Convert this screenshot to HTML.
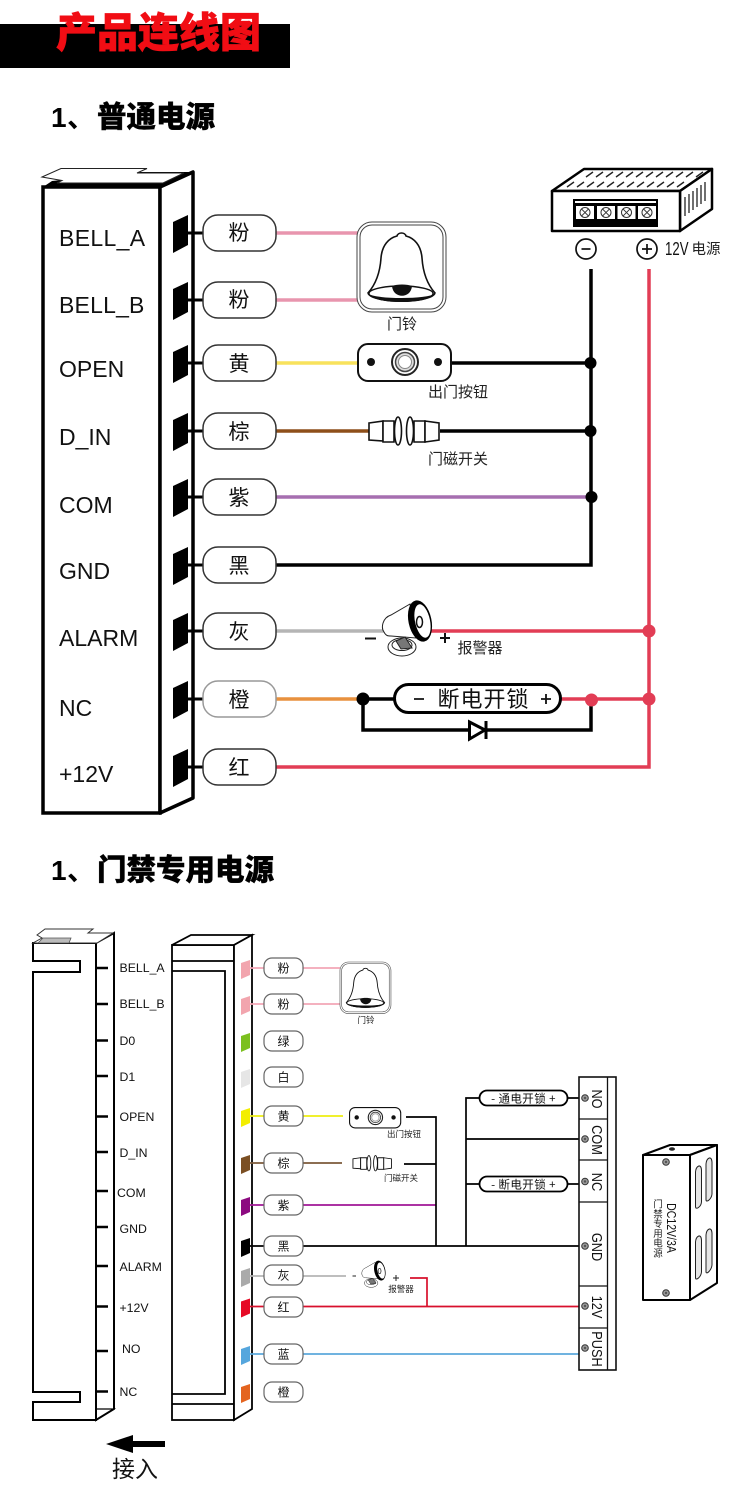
<!DOCTYPE html>
<html lang="zh">
<head>
<meta charset="utf-8">
<title>产品连线图</title>
<style>
html,body{margin:0;padding:0;background:#fff;}
svg{display:block;}
text{font-family:"Liberation Sans","Noto Sans CJK SC",sans-serif;fill:#111;}
.cjk{font-family:"Noto Sans CJK SC","WenQuanYi Zen Hei",sans-serif;}
.big{font-size:23px;}
.p1{font-size:21px;text-anchor:middle;}
.p2{font-size:12px;text-anchor:middle;}
.sm{font-size:12.3px;}
.cap{font-size:15px;text-anchor:middle;fill:#222;}
.capS{font-size:8.5px;text-anchor:middle;fill:#222;}
.pill1{fill:#fff;stroke:#333;stroke-width:1.5;}
.pill2{fill:#fff;stroke:#666;stroke-width:1.2;}
.term{font-size:15px;text-anchor:middle;}
.h2{font-size:29.5px;font-weight:900;fill:#000;stroke:#000;stroke-width:.4;}
.v{font-size:9.5px;text-anchor:middle;fill:#222;}
</style>
</head>
<body>
<svg xmlns="http://www.w3.org/2000/svg" width="750" height="1487" viewBox="0 0 750 1487">
<defs>
  <path id="pin" d="M173-11L188-18V12L173 20Z" fill="#000"/>
  <path id="tab" d="M241-5L250-8V7L241 11Z"/>
  <g id="bell">
    <rect x="357" y="222" width="89" height="90" rx="15" fill="#fff" stroke="#444" stroke-width="1"/>
    <rect x="360" y="225" width="83" height="84" rx="12" fill="#fff" stroke="#444" stroke-width="1"/>
    <path d="M368 293C376 284 380 273 381 258C382 245 389 238 397 236C398 232 405 232 406 236C414 238 421 245 422 258C423 273 427 284 435 293C428 304 375 304 368 293Z" fill="#fff" stroke="#111" stroke-width="1.6"/>
    <ellipse cx="401" cy="293.500" rx="32" ry="7.500" fill="#fff" stroke="#111" stroke-width="1.4"/>
    <path d="M368 294C375 304 428 304 435 294C428 300 375 300 368 294Z" fill="#111" stroke="#111"/>
    <path d="M392 286C397 284 407 284 412 286C411 299 393 299 392 286Z" fill="#111"/>
  </g>
  <g id="button">
    <rect x="358" y="344" width="93" height="37" rx="10" fill="#fff" stroke="#111" stroke-width="2"/>
    <circle cx="371" cy="362" r="4" fill="#111"/>
    <circle cx="438" cy="362" r="4" fill="#111"/>
    <circle cx="405" cy="362" r="13" fill="#fff" stroke="#222" stroke-width="2"/>
    <circle cx="405" cy="362" r="9.500" fill="#ddd" stroke="#444" stroke-width="1.500"/>
    <circle cx="405" cy="362" r="6.500" fill="#fff" stroke="#888" stroke-width="1"/>
  </g>
  <g id="sensor" fill="#fff" stroke="#111" stroke-width="1.600">
    <path d="M369 423L383 421V441L369 440Z"/>
    <path d="M383 421H394V442H383Z"/>
    <ellipse cx="398" cy="431" rx="3.500" ry="14"/>
    <ellipse cx="410" cy="431" rx="3.500" ry="14"/>
    <path d="M414 421H425V442H414Z"/>
    <path d="M425 421L439 423V440L425 442Z"/>
  </g>
  <g id="speaker">
    <path d="M410 604L391 615C382 618 381 628 384 632C386 636 388 636 391 636L416 638Z" fill="#fff" stroke="#222" stroke-width="1"/>
    <ellipse cx="420" cy="621" rx="11.500" ry="21" transform="rotate(-12 420 621)" fill="#000"/>
    <ellipse cx="422.500" cy="621" rx="7.500" ry="17" transform="rotate(-12 422.500 621)" fill="#fff"/>
    <ellipse cx="419.500" cy="622" rx="3" ry="5.500" fill="#fff" stroke="#111" stroke-width="1.500"/>
    <ellipse cx="402" cy="647" rx="14" ry="9" fill="#fff" stroke="#222" stroke-width="1"/>
    <ellipse cx="402" cy="645" rx="10" ry="5.500" fill="#fff" stroke="#222" stroke-width="1"/>
    <path d="M396 641L405 637L412 648L401 649Z" fill="#777" stroke="#222" stroke-width="1"/>
  </g>
  <g id="screw">
    <circle r="3.300" fill="#999" stroke="#333" stroke-width="1"/>
    <circle r="1.200" fill="#555"/>
  </g>
  <g id="xs">
    <rect x="-9" y="-6.500" width="18" height="13" fill="#fff"/>
    <circle r="5" fill="#fff" stroke="#333" stroke-width="1"/>
    <path d="M-3.300-3.300L3.300 3.300M3.300-3.300L-3.300 3.300" stroke="#333" stroke-width="1"/>
  </g>
</defs>

<rect width="750" height="1487" fill="#fff"/>

<!-- header -->
<rect x="0" y="24" width="290" height="44" fill="#000"/>
<text class="cjk" x="158.500" y="47" text-anchor="middle" style="font-size:41px;font-weight:900;fill:#f10d14;stroke:#f10d14;stroke-width:.7">产品连线图</text>

<!-- section 1 title -->
<text x="51" y="127" style="font-size:28px;font-weight:700;fill:#000">1</text>
<text class="cjk" x="67" y="127" style="font-size:28px;font-weight:700;fill:#000">、</text>
<text class="cjk h2" x="97" y="127">普通电源</text>

<!-- panel 1 -->
<rect x="43" y="187" width="117" height="626" fill="#fff" stroke="#000" stroke-width="3.500"/>
<path d="M160 187L193 172V798L160 813Z" fill="#fff" stroke="#000" stroke-width="3.500" stroke-linejoin="round"/>
<path d="M137 172H193L160 187H43L52 181Z" fill="#000"/>
<path d="M42 177L61 168.500H147L137 173H184L163 183H57L62 180.500Z" fill="#fff" stroke="#222" stroke-width="1"/>

<!-- panel 1 labels -->
<text class="big" x="59" y="246" style="letter-spacing:.35px">BELL_A</text>
<text class="big" x="59" y="313" style="letter-spacing:.2px">BELL_B</text>
<text class="big" x="59" y="377">OPEN</text>
<text class="big" x="59" y="445">D_IN</text>
<text class="big" x="59" y="513">COM</text>
<text class="big" x="59" y="579">GND</text>
<text class="big" x="59" y="646">ALARM</text>
<text class="big" x="59" y="716">NC</text>
<text class="big" x="59" y="782">+12V</text>

<!-- panel 1 pins -->
<g>
  <use href="#pin" y="233"/><use href="#pin" y="300"/><use href="#pin" y="363"/>
  <use href="#pin" y="431"/><use href="#pin" y="497"/><use href="#pin" y="565"/>
  <use href="#pin" y="631"/><use href="#pin" y="699"/><use href="#pin" y="767"/>
</g>
<path d="M188 233H203M188 300H203M188 363H203M188 431H203M188 497H203M188 565H203M188 631H203M188 699H203M188 767H203" stroke="#000" stroke-width="3" fill="none"/>

<!-- panel 1 wires -->
<g fill="none" stroke-width="3.500">
  <path d="M276 233H358M276 300H358" stroke="#e895ae"/>
  <path d="M276 363H358" stroke="#f8e25c"/>
  <path d="M276 431H370" stroke="#8e4f1a"/>
  <path d="M276 497H591" stroke="#a66fb0"/>
  <path d="M276 631H384" stroke="#b5b5b5"/>
  <path d="M276 699H362" stroke="#e8913e"/>
  <path d="M451 363H591M440 431H591M276 565H591V269" stroke="#000"/>
  <path d="M363 699H394M363 699V730H591V699" stroke="#000"/>
  <path d="M649 269V767H276M430 631H649M561 699H649" stroke="#e23d55"/>
</g>
<g fill="#000">
  <circle cx="590.500" cy="363" r="6"/>
  <circle cx="590.500" cy="431" r="6"/>
  <circle cx="591.500" cy="497" r="6"/>
  <circle cx="363" cy="699" r="6.500"/>
</g>
<g fill="#e23d55">
  <circle cx="649" cy="631" r="6.500"/>
  <circle cx="649" cy="699" r="6.500"/>
  <circle cx="591.500" cy="700" r="6.500"/>
</g>

<!-- panel 1 pills -->
<g class="pill1">
  <rect x="203" y="215" width="73" height="36" rx="15"/>
  <rect x="203" y="282" width="73" height="36" rx="15"/>
  <rect x="203" y="345" width="73" height="36" rx="15"/>
  <rect x="203" y="413" width="73" height="36" rx="15"/>
  <rect x="203" y="479" width="73" height="36" rx="15"/>
  <rect x="203" y="547" width="73" height="36" rx="15"/>
  <rect x="203" y="613" width="73" height="36" rx="15"/>
  <rect x="203" y="681" width="73" height="36" rx="15" stroke="#999"/>
  <rect x="203" y="749" width="73" height="36" rx="15"/>
</g>
<g class="cjk">
  <text class="p1 cjk" x="239" y="240">粉</text>
  <text class="p1 cjk" x="239" y="307">粉</text>
  <text class="p1 cjk" x="239" y="371">黄</text>
  <text class="p1 cjk" x="239" y="439">棕</text>
  <text class="p1 cjk" x="239" y="505">紫</text>
  <text class="p1 cjk" x="239" y="573">黑</text>
  <text class="p1 cjk" x="239" y="639">灰</text>
  <text class="p1 cjk" x="239" y="707">橙</text>
  <text class="p1 cjk" x="239" y="775">红</text>
</g>

<!-- panel 1 devices -->
<use href="#bell"/>
<text class="cap cjk" x="402" y="329">门铃</text>
<use href="#button"/>
<text class="cap cjk" x="458" y="397">出门按钮</text>
<use href="#sensor"/>
<text class="cap cjk" x="458" y="464">门磁开关</text>
<use href="#speaker"/>
<path d="M365 638.500H376M440 638H450M445 633V643" stroke="#111" stroke-width="2" fill="none"/>
<text class="cap cjk" x="480" y="653">报警器</text>

<!-- lock -->
<rect x="394.500" y="684.500" width="166" height="28" rx="14" fill="#fff" stroke="#000" stroke-width="3"/>
<path d="M414 699H424M541 699H551M546 694V704" stroke="#111" stroke-width="1.800" fill="none"/>
<text class="cjk" x="483.500" y="707" text-anchor="middle" style="font-size:22px;letter-spacing:1px">断电开锁</text>
<path d="M469.500 722L485 730L469.500 739Z" fill="#fff" stroke="#000" stroke-width="3"/>
<path d="M486 721V739" stroke="#000" stroke-width="3"/>

<!-- power supply -->
<g stroke="#000" stroke-linejoin="round">
  <path d="M552 191L584 169H712L680 191Z" fill="#fff" stroke-width="2.500"/>
  <path d="M680 191L712 169V209L680 231Z" fill="#fff" stroke-width="2.500"/>
  <rect x="552" y="191" width="128" height="40" fill="#fff" stroke-width="2.500"/>
</g>
<path d="M593 172L586 177M603 172L596 177M613 172L606 177M623 172L616 177M633 172L626 177M643 172L636 177M653 172L646 177M663 172L656 177M673 172L666 177M683 172L676 177M693 172L686 177M703 172L696 177M574 182L567 187M584 182L577 187M594 182L587 187M604 182L597 187M614 182L607 187M624 182L617 187M634 182L627 187M644 182L637 187M654 182L647 187M664 182L657 187M674 182L667 187M684 182L677 187" stroke="#222" stroke-width="1.400" fill="none"/>
<path d="M685 197V216M689 194V213M693 191V210M697 188V207M701 185V204M705 182V201" stroke="#222" stroke-width="1.300" fill="none"/>
<rect x="573" y="199" width="85" height="28" fill="#000"/>
<rect x="575" y="201" width="81" height="2" fill="#fff"/>
<use href="#xs" x="585" y="212.500"/><use href="#xs" x="606" y="212.500"/><use href="#xs" x="626.500" y="212.500"/><use href="#xs" x="647" y="212.500"/>
<circle cx="586" cy="249" r="10" fill="#fff" stroke="#111" stroke-width="1.700"/>
<path d="M581.500 249H590.500" stroke="#111" stroke-width="1.700"/>
<circle cx="647" cy="249" r="10" fill="#fff" stroke="#111" stroke-width="1.700"/>
<path d="M642 249H652M647 244V254" stroke="#111" stroke-width="1.700"/>
<text x="665" y="255" style="font-size:18px" textLength="23.500" lengthAdjust="spacingAndGlyphs">12V</text>
<text class="cjk" x="691.500" y="254" style="font-size:14.500px;fill:#222">电源</text>

<!-- section 2 title -->
<text x="51" y="880" style="font-size:28px;font-weight:700;fill:#000">1</text>
<text class="cjk" x="67" y="880" style="font-size:28px;font-weight:700;fill:#000">、</text>
<text class="cjk h2" x="97" y="880">门禁专用电源</text>

<!-- lower left panel -->
<g fill="none" stroke="#000" stroke-width="2" stroke-linejoin="miter">
  <path d="M33 961V943H96V1420H33V1402H80V1392H33V972H80V961Z" fill="#fff"/>
  <path d="M96 943L114 933V1409L96 1420Z" fill="#fff"/>
  <path d="M96 1420L114 1409H96" stroke-width="1.200"/>
</g>
<path d="M37 935L45 929H93L88 933H113L97 943H33L42 938Z" fill="#fff" stroke="#333" stroke-width="1"/>
<path d="M38 943L43 938H71L69 943Z" fill="#bbb" stroke="#555" stroke-width=".8"/>
<path d="M96 968H108M96 1004H108M96 1040.500H108M96 1076H108M96 1116.500H108M96 1152H108M96 1191H108M96 1227H108M96 1266H108M96 1306.500H108M96 1351H108M96 1391.500H108" stroke="#000" stroke-width="2.500" fill="none"/>
<text class="sm" x="119.500" y="972">BELL_A</text>
<text class="sm" x="119.500" y="1008">BELL_B</text>
<text class="sm" x="119.500" y="1045">D0</text>
<text class="sm" x="119.500" y="1081">D1</text>
<text class="sm" x="119.500" y="1121">OPEN</text>
<text class="sm" x="119.500" y="1157">D_IN</text>
<text class="sm" x="117" y="1197">COM</text>
<text class="sm" x="119.500" y="1233">GND</text>
<text class="sm" x="119.500" y="1271">ALARM</text>
<text class="sm" x="119.500" y="1312">+12V</text>
<text class="sm" x="122" y="1353">NO</text>
<text class="sm" x="119.500" y="1396">NC</text>

<!-- lower right panel -->
<g fill="none" stroke="#000" stroke-width="1.800">
  <rect x="172" y="945" width="62" height="475" fill="#fff"/>
  <path d="M172 945L191 935H252L234 945Z" fill="#fff"/>
  <path d="M234 945L252 935V1409L234 1420Z" fill="#fff"/>
  <path d="M172 961H234M172 971H225V1394H172M172 1404H234"/>
</g>

<!-- tabs -->
<use href="#tab" y="968" fill="#f2a5ae"/>
<use href="#tab" y="1004" fill="#f2a5ae"/>
<use href="#tab" y="1041" fill="#7cc01f"/>
<use href="#tab" y="1077" fill="#e6e6e6"/>
<use href="#tab" y="1116" fill="#f3ee00"/>
<use href="#tab" y="1163" fill="#7b4f23"/>
<use href="#tab" y="1205" fill="#8c0a80"/>
<use href="#tab" y="1246" fill="#000"/>
<use href="#tab" y="1276" fill="#aaa"/>
<use href="#tab" y="1306.500" fill="#e60a26"/>
<use href="#tab" y="1354" fill="#55a6dd"/>
<use href="#tab" y="1392" fill="#e4641f"/>

<!-- lower wires -->
<g fill="none" stroke-width="1.700">
  <path d="M250 968H340M250 1004H340" stroke="#f3a6b6"/>
  <path d="M250 1116H343" stroke="#eeee10"/>
  <path d="M250 1163H342" stroke="#7b5a3a"/>
  <path d="M250 1205H436" stroke="#a01696"/>
  <path d="M250 1276H346" stroke="#b5b5b5"/>
  <path d="M250 1306.500H579M410 1278H427V1306" stroke="#d8102c"/>
  <path d="M250 1354H579" stroke="#5ba8dc"/>
  <path d="M250 1246H579M406 1117H436V1246M404 1164H436M466 1246V1098H479M466 1139H579M466 1184H479M568 1098H579M568 1184H579" stroke="#000"/>
</g>

<!-- lower pills -->
<g class="pill2">
  <rect x="264" y="958" width="39" height="20" rx="8"/>
  <rect x="264" y="994" width="39" height="20" rx="8"/>
  <rect x="264" y="1031" width="39" height="20" rx="8"/>
  <rect x="264" y="1067" width="39" height="20" rx="8"/>
  <rect x="264" y="1106" width="39" height="20" rx="8"/>
  <rect x="264" y="1153" width="39" height="20" rx="8"/>
  <rect x="264" y="1195" width="39" height="20" rx="8"/>
  <rect x="264" y="1236" width="39" height="20" rx="8"/>
  <rect x="264" y="1265" width="39" height="20" rx="8"/>
  <rect x="264" y="1297" width="39" height="20" rx="8"/>
  <rect x="264" y="1344" width="39" height="20" rx="8"/>
  <rect x="264" y="1382" width="39" height="20" rx="8"/>
</g>
<text class="p2 cjk" x="283.500" y="972.500">粉</text>
<text class="p2 cjk" x="283.500" y="1008.500">粉</text>
<text class="p2 cjk" x="283.500" y="1045.500">绿</text>
<text class="p2 cjk" x="283.500" y="1081.500">白</text>
<text class="p2 cjk" x="283.500" y="1120.500">黄</text>
<text class="p2 cjk" x="283.500" y="1167.500">棕</text>
<text class="p2 cjk" x="283.500" y="1209.500">紫</text>
<text class="p2 cjk" x="283.500" y="1250.500">黑</text>
<text class="p2 cjk" x="283.500" y="1279.500">灰</text>
<text class="p2 cjk" x="283.500" y="1311.500">红</text>
<text class="p2 cjk" x="283.500" y="1358.500">蓝</text>
<text class="p2 cjk" x="283.500" y="1396.500">橙</text>

<!-- lower devices -->
<use href="#bell" transform="translate(135.400 834.800) scale(.573)"/>
<text class="capS cjk" x="366" y="1023">门铃</text>
<use href="#button" transform="translate(152.650 918.350) scale(.55)"/>
<text class="capS cjk" x="404" y="1137">出门按钮</text>
<use href="#sensor" transform="translate(150 926.200) scale(.55)"/>
<text class="capS cjk" x="401" y="1181">门磁开关</text>
<use href="#speaker" transform="translate(178.200 972.500) scale(.48)"/>
<path d="M352.500 1276H356M393 1278H399M396 1275V1281" stroke="#222" stroke-width="1" fill="none"/>
<text class="capS cjk" x="401" y="1292">报警器</text>

<!-- lower locks -->
<rect x="479.500" y="1090.500" width="88" height="15" rx="7.500" fill="#fff" stroke="#000" stroke-width="1.800"/>
<text class="cjk" x="523.500" y="1102.500" text-anchor="middle" style="font-size:11.500px;letter-spacing:.4px">- 通电开锁 +</text>
<rect x="479.500" y="1176.500" width="88" height="15" rx="7.500" fill="#fff" stroke="#000" stroke-width="1.800"/>
<text class="cjk" x="523.500" y="1188.500" text-anchor="middle" style="font-size:11.500px;letter-spacing:.4px">- 断电开锁 +</text>

<!-- terminal block -->
<rect x="579" y="1077" width="37" height="293" fill="#fff" stroke="#111" stroke-width="1.600"/>
<path d="M607.500 1077V1370M579 1119H607.500M579 1160H607.500M579 1202H607.500M579 1286H607.500M579 1328H607.500" stroke="#111" stroke-width="1.300" fill="none"/>
<use href="#screw" x="585" y="1098"/><use href="#screw" x="585" y="1139"/><use href="#screw" x="585" y="1181.500"/>
<use href="#screw" x="585" y="1246"/><use href="#screw" x="585" y="1306"/><use href="#screw" x="585" y="1348"/>
<text class="term" transform="translate(592 1099) rotate(90) scale(.85 1)">NO</text>
<text class="term" transform="translate(592 1140) rotate(90) scale(.85 1)">COM</text>
<text class="term" transform="translate(592 1182) rotate(90) scale(.85 1)">NC</text>
<text class="term" transform="translate(592 1247) rotate(90) scale(.85 1)">GND</text>
<text class="term" transform="translate(592 1307) rotate(90) scale(.85 1)">12V</text>
<text class="term" transform="translate(592 1349) rotate(90) scale(.85 1)">PUSH</text>

<!-- power box -->
<g stroke="#000" stroke-width="2" stroke-linejoin="round">
  <path d="M643 1155L670 1145H717L690 1155Z" fill="#fff"/>
  <path d="M690 1155L717 1145V1283L690 1300Z" fill="#fff"/>
  <rect x="643" y="1155" width="47" height="145" fill="#fff"/>
</g>
<ellipse cx="672" cy="1149" rx="3" ry="1.800" fill="#222"/>
<g fill="#e6e6e6" stroke="#222" stroke-width="1">
  <path d="M695.500 1172C696 1166 701 1163 701.500 1170V1202C701 1207 696 1210 695.500 1207Z"/>
  <path d="M706 1164C706.500 1158 711.500 1155 712 1162V1194C711.500 1199 706.500 1203 706 1200Z"/>
  <path d="M695.500 1242C696 1236 701 1233 701.500 1240V1272C701 1277 696 1281 695.500 1278Z"/>
  <path d="M706 1235C706.500 1229 711.500 1226 712 1233V1265C711.500 1270 706.500 1275 706 1272Z"/>
</g>
<use href="#screw" x="666" y="1162"/><use href="#screw" x="666" y="1293"/>
<text transform="translate(667 1228) rotate(90) scale(.81 1)" text-anchor="middle" style="font-size:13px">DC12V/3A</text>
<text class="cjk v" x="658" y="1207.500">门</text>
<text class="cjk v" x="658" y="1217.300">禁</text>
<text class="cjk v" x="658" y="1227.100">专</text>
<text class="cjk v" x="658" y="1236.900">用</text>
<text class="cjk v" x="658" y="1246.700">电</text>
<text class="cjk v" x="658" y="1256.500">源</text>

<!-- arrow -->
<path d="M106 1444L133 1435V1441H165V1447H133V1453Z" fill="#000"/>
<text class="cjk" x="135" y="1477" text-anchor="middle" style="font-size:23px;fill:#111">接入</text>
</svg>
</body>
</html>
